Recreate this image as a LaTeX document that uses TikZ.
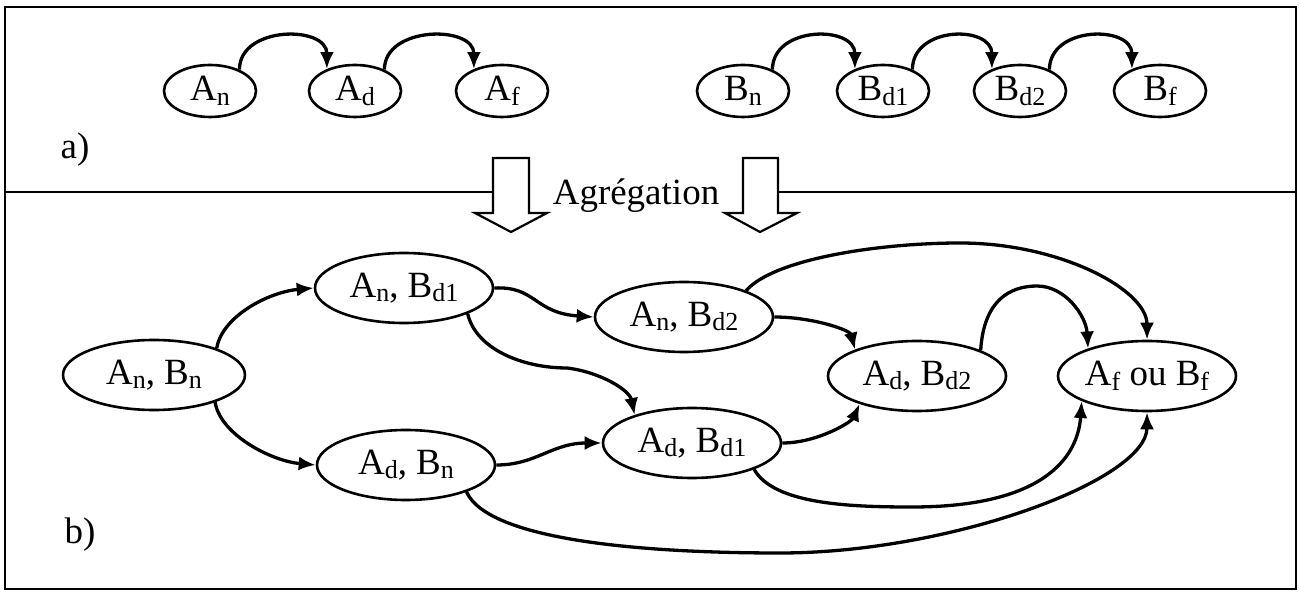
\documentclass[tikz,border=0pt]{standalone}
\usepackage{fontspec}
\setmainfont{Liberation Serif}
\usetikzlibrary{shapes.geometric,arrows.meta}
\newcommand\subidx[1]{\raisebox{-0.12em}{\fontsize{13}{13}\selectfont #1}}
\tikzset{
  small state/.style={ellipse,draw,line width=1.3pt,inner sep=0pt,minimum width=46pt,minimum height=26pt},
  big state/.style={ellipse,draw,line width=1.3pt,inner sep=0pt,minimum width=89pt,minimum height=35pt},
  trans/.style={line width=1.65pt,-{Latex[length=8.5pt,width=7pt]}},
  hollow/.style={draw,line width=1.1pt,fill=white,line join=miter},
  lbl/.style={inner sep=0pt}
}
\begin{document}
\begin{tikzpicture}[x=0.5pt,y=-0.5pt,font=\fontsize{18.5}{22}\selectfont]
\useasboundingbox (0,0) rectangle (1300,592);
% frame
\draw[line width=1.2pt] (5,7) rectangle (1296,589);
\coordinate (divL) at (5,192);
\coordinate (divLe) at (493,192);
\coordinate (divRs) at (778,192);
\coordinate (divR) at (1296,192);
\draw[line width=1.2pt] (divL) -- (divLe);
\draw[line width=1.2pt] (divRs) -- (divR);
% hollow arrows
\draw[hollow] (493,158) -- (529,158) -- (529,213) -- (547,213) -- (511,232) -- (475,213) -- (493,213) -- cycle;
\draw[hollow] (743,158) -- (778,158) -- (778,213) -- (797,213) -- (760,232) -- (725,213) -- (743,213) -- cycle;
\node[lbl,anchor=base] (agg) at (636,205) {Agrégation};
% labels
\node[lbl] (la) at (75,150) {a)};
\node[lbl] (lb) at (80,535) {b)};
% top row
\node[small state] (An) at (210,91) {A\subidx{n}};
\node[small state] (Ad) at (355,91) {A\subidx{d}};
\node[small state] (Af) at (502,91) {A\subidx{f}};
\node[small state] (Bn) at (743,91) {B\subidx{n}};
\node[small state] (Bd1) at (883,91) {B\subidx{d1}};
\node[small state] (Bd2) at (1020,91) {B\subidx{d2}};
\node[small state] (Bf) at (1160,91) {B\subidx{f}};
\foreach \a/\b in {An/Ad,Ad/Af,Bn/Bd1,Bd1/Bd2,Bd2/Bf}
  \draw[trans] (\a.36) .. controls +(0,-44) and +(0,-44) .. (\b.142);
% bottom graph
\node[big state,minimum width=91pt] (AnBn) at (154,375) {A\subidx{n}, B\subidx{n}};
\node[big state] (AnBd1) at (404,288) {A\subidx{n}, B\subidx{d1}};
\node[big state] (AnBd2) at (684,317) {A\subidx{n}, B\subidx{d2}};
\node[big state] (AdBn) at (406,465) {A\subidx{d}, B\subidx{n}};
\node[big state] (AdBd1) at (692,443) {A\subidx{d}, B\subidx{d1}};
\node[big state] (AdBd2) at (917,376) {A\subidx{d}, B\subidx{d2}};
\node[big state] (AfBf) at (1147,376) {A\subidx{f} ou B\subidx{f}};
\draw[trans] (AnBn.23) .. controls +(5,-32) and +(-45,4) .. (AnBd1.west);
\draw[trans] (AnBn.-24) .. controls +(5,32) and +(-45,-4) .. (AdBn.west);
\draw[trans] (AnBd1.east) .. controls +(42,-2) and +(-60,-4) .. (AnBd2.west);
\draw[trans] (AnBd1.-22) .. controls +(8,35) and +(-45,0) .. (567,368) .. controls +(33,4) and +(-5,-25) .. (AdBd1.154);
\draw[trans] (AdBn.east) .. controls +(40,0) and +(-50,0) .. (AdBd1.west);
\draw[trans] (AnBd2.east) .. controls +(37,0) and +(-5,-20) .. (AdBd2.157);
\draw[trans] (AnBd2.23) .. controls +(28,-32) and +(-80,0) .. (960,243) .. controls +(100,0) and +(0,-50) .. (AfBf.north);
\draw[trans] (AdBd2.22) .. controls +(3,-50) and +(-27,0) .. (1037,286) .. controls +(28,0) and +(-2,-33) .. (AfBf.155);
\draw[trans] (AdBd1.east) .. controls +(35,0) and +(-8,18) .. (AdBd2.206);
\draw[trans] (AdBd1.-23) .. controls +(20,35) and +(-62,0) .. (912,507) .. controls +(128,0) and +(-4,59) .. (AfBf.201);
\draw[trans] (AdBn.-24) .. controls +(22,48) and +(-140,0) .. (780,553) .. controls +(170,0) and +(0,68) .. (AfBf.south);
\end{tikzpicture}
\end{document}
